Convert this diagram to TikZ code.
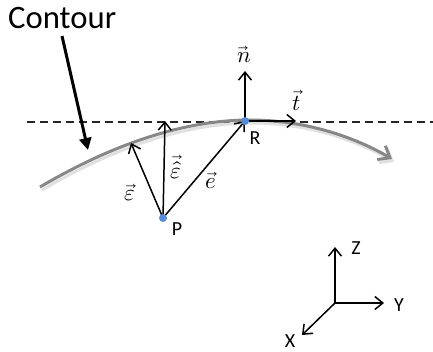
\documentclass[tikz,border=0pt]{standalone}
\usepackage{fontspec}
\setmainfont{Carlito}
\usepackage{unicode-math}
\setmathfont{Latin Modern Math}
\usepackage{graphicx}
\usetikzlibrary{arrows.meta}
\definecolor{contourgray}{RGB}{135,135,135}
\definecolor{dotblue}{RGB}{85,140,215}
\newcommand\lblfont{\fontsize{20.5pt}{23pt}\selectfont}
\newcommand\mlblfont{\fontsize{23pt}{26pt}\selectfont}
\newcommand\bigfont{\fontsize{32.5pt}{36pt}\selectfont}
\newcommand\caplbl[1]{\resizebox{!}{12.8pt}{#1}}
\tikzset{
  vec/.style={line width=1.5pt,-{Straight Barb[length=8pt,width=13pt,line width=1.5pt]}},
  axis/.style={line width=1.5pt,-{Straight Barb[length=8pt,width=13pt,line width=1.5pt]}},
  dotmark/.style={circle,fill=dotblue,inner sep=0pt,minimum size=8pt},
  lbl/.style={font=\lblfont,inner sep=1pt},
  mlbl/.style={font=\mlblfont,inner sep=1pt},
}
\begin{document}
\begin{tikzpicture}[x=1pt,y=-1pt]
\useasboundingbox (0,0) rectangle (433,352);
% dashed tangent line
\coordinate (dl) at (27,122);
\coordinate (dr) at (433,122);
\draw[line width=1.5pt,dash pattern=on 8pt off 5pt,black!85] (dl) -- (dr);
% contour curve
\coordinate (c0) at (40,187);
\coordinate (ctop) at (250,120);
\coordinate (c1) at (392,159);
\draw[line width=3pt,black!12,-{Straight Barb[length=10pt,width=16pt,line width=3pt]}]
  ([shift={(2,3)}]c0) .. controls (122,143) and (192,123) .. ([shift={(2,3)}]ctop)
  .. controls (312,123) and (362,143) .. ([shift={(2,3)}]c1);
\draw[line width=3pt,contourgray,-{Straight Barb[length=10pt,width=16pt,line width=3pt]}]
  (c0) .. controls (120,140) and (190,120) .. (ctop)
  .. controls (310,120) and (360,140) .. (c1);
% Contour label and arrow
\node[font=\bigfont,anchor=west,inner sep=0pt] (contour) at (8,18) {\resizebox{108pt}{!}{Contour}};
\coordinate (cs) at (62,36);
\coordinate (ce) at (88,150);
\draw[line width=3pt,-{Triangle[length=12pt,width=12pt]}] (cs) -- (ce);
% points
\coordinate (P) at (163,218);
\coordinate (R) at (245,121);
\coordinate (epsT) at (131,143);
\coordinate (ehT) at (165,121);
\coordinate (nT) at (245,71);
\coordinate (tT) at (296,121);
\draw[vec] (P) -- (epsT);
\draw[vec] (P) -- (ehT);
\draw[vec] (P) -- (R);
\draw[vec] (R) -- (nT);
\draw[vec] (R) -- (tT);
\node[dotmark] (Pdot) at (P) {};
\node[dotmark] (Rdot) at (R) {};
\node[lbl] (Plbl) at (177,229) {\caplbl{P}};
\node[lbl] (Rlbl) at (255,138) {\caplbl{R}};
\node[mlbl] (nlbl) at (244,54) {$\vec{n}$};
\node[mlbl] (tlbl) at (297,100) {$\vec{t}$};
\node[mlbl] (elbl) at (130,193) {$\vec{\varepsilon}$};
\node[mlbl] (ehlbl) at (176,167) {$\vec{\hat{\varepsilon}}$};
\node[mlbl] (evlbl) at (211,180) {$\vec{e}$};
% axes
\coordinate (O) at (335,303);
\coordinate (Zt) at (335,247);
\coordinate (Yt) at (384,303);
\coordinate (Xt) at (302,335);
\draw[axis] (O) -- (Zt);
\draw[axis] (O) -- (Yt);
\draw[axis] (O) -- (Xt);
\node[lbl] (Z) at (356,248) {\caplbl{Z}};
\node[lbl] (Y) at (399,305) {\caplbl{Y}};
\node[lbl] (X) at (290,341) {\caplbl{X}};
\end{tikzpicture}
\end{document}
